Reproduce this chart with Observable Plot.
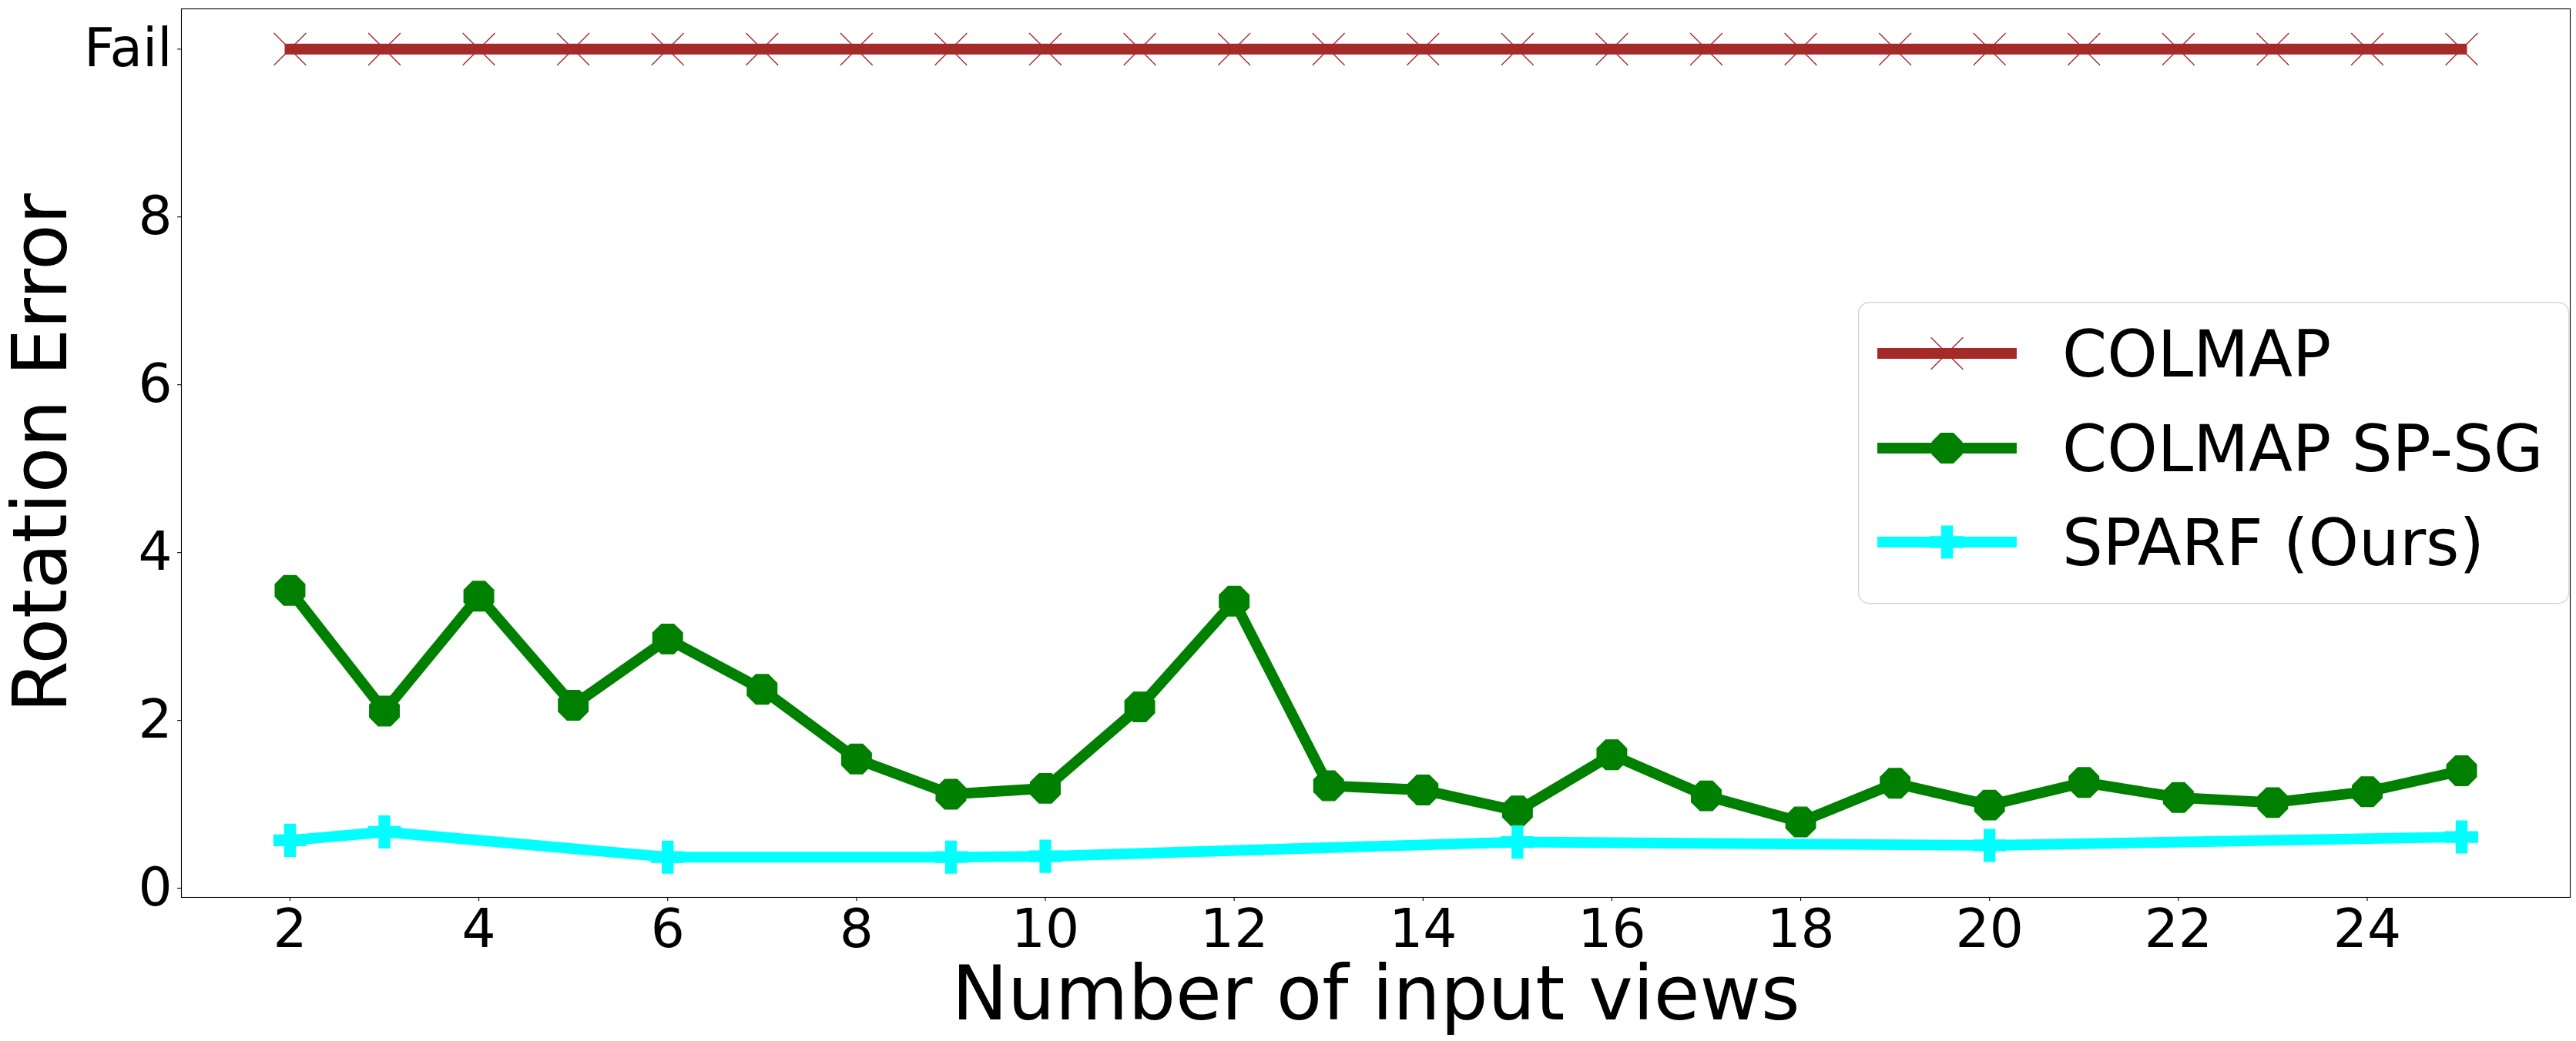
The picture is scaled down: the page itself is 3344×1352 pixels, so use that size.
<!DOCTYPE html>
<html><head><meta charset="utf-8">
<script src="https://cdn.jsdelivr.net/npm/d3@7"></script>
<script src="https://cdn.jsdelivr.net/npm/@observablehq/plot@0.6"></script>
<style>
html,body{margin:0;padding:0;background:#fff;}
#wrap{position:relative;width:3344px;height:1352px;background:#fff;}
</style></head>
<body><div id="wrap"></div>
<script>
// ---- data ----
const views = [2,3,4,5,6,7,8,9,10,11,12,13,14,15,16,17,18,19,20,21,22,23,24,25];
const colmapErr = [10,10,10,10,10,10,10,10,10,10,10,10,10,10,10,10,10,10,10,10,10,10,10,10]; // "Fail"
const spsgErr = [3.55,2.11,3.48,2.18,2.97,2.37,1.54,1.12,1.19,2.16,3.42,1.22,1.17,0.92,1.59,1.10,0.79,1.25,0.99,1.26,1.08,1.02,1.15,1.40];
const sparfViews = [2,3,6,9,10,15,20,25];
const sparfErr = [0.57,0.67,0.37,0.37,0.38,0.55,0.51,0.61];
const xTicks = [2,4,6,8,10,12,14,16,18,20,22,24];
const yTicks = [0,2,4,6,8,10];
const yTickLabels = ["0","2","4","6","8","Fail"];
const seriesNames = ["COLMAP","COLMAP SP-SG","SPARF (Ours)"];
const seriesColors = ["#a52a2a","#008000","#00ffff"];

// ---- marker shapes ----
const timesSym = {draw(ctx, size){const R=Math.sqrt(size/Math.PI);ctx.moveTo(-R,-R);ctx.lineTo(R,R);ctx.moveTo(-R,R);ctx.lineTo(R,-R);}};
const octSym = {draw(ctx, size){const R=Math.sqrt(size/Math.PI);for(let k=0;k<8;k++){const a=Math.PI/8+k*Math.PI/4;const px=R*Math.cos(a),py=R*Math.sin(a);if(k===0)ctx.moveTo(px,py);else ctx.lineTo(px,py);}ctx.closePath();}};
const plusSym = {draw(ctx, size){const R=Math.sqrt(size/Math.PI);const t=R/3;ctx.moveTo(-t,-R);ctx.lineTo(t,-R);ctx.lineTo(t,-t);ctx.lineTo(R,-t);ctx.lineTo(R,t);ctx.lineTo(t,t);ctx.lineTo(t,R);ctx.lineTo(-t,R);ctx.lineTo(-t,t);ctx.lineTo(-R,t);ctx.lineTo(-R,-t);ctx.lineTo(-t,-t);ctx.closePath();}};
const symbols = [timesSym, octSym, plusSym];

const colmapRows = views.map((v,i)=>({x:v,y:colmapErr[i]}));
const spsgRows = views.map((v,i)=>({x:v,y:spsgErr[i]}));
const sparfRows = sparfViews.map((v,i)=>({x:v,y:sparfErr[i]}));

const LW = 13.9, MR = 20.85;

const chart = Plot.plot({
  width: 3344, height: 1352,
  marginLeft: 235, marginRight: 8, marginTop: 11, marginBottom: 187,
  style: {fontFamily: "DejaVu Sans", fontSize: "69.4px", color: "black", background: "white"},
  x: {domain: [0.85, 26.15]},
  y: {domain: [-0.11, 10.48]},
  marks: [
    Plot.axisX({ticks: xTicks, tickSize: 4.9, tickPadding: 10.8, strokeWidth: 1.1, label: null, tickFormat: d => String(d)}),
    Plot.axisY({ticks: yTicks, tickSize: 4.9, tickPadding: 7, strokeWidth: 1.1, label: null, tickFormat: d => yTickLabels[yTicks.indexOf(d)]}),
    Plot.line(colmapRows, {x: "x", y: "y", stroke: seriesColors[0], strokeWidth: LW, strokeLinecap: "square", strokeLinejoin: "round"}),
    Plot.dot(colmapRows, {x: "x", y: "y", symbol: timesSym, r: MR, fill: "none", stroke: seriesColors[0], strokeWidth: 1.4}),
    Plot.line(spsgRows, {x: "x", y: "y", stroke: seriesColors[1], strokeWidth: LW, strokeLinecap: "square", strokeLinejoin: "round"}),
    Plot.dot(spsgRows, {x: "x", y: "y", symbol: octSym, r: MR, fill: seriesColors[1], stroke: seriesColors[1], strokeWidth: 1.4}),
    Plot.line(sparfRows, {x: "x", y: "y", stroke: seriesColors[2], strokeWidth: LW, strokeLinecap: "square", strokeLinejoin: "round"}),
    Plot.dot(sparfRows, {x: "x", y: "y", symbol: plusSym, r: MR, fill: seriesColors[2], stroke: seriesColors[2], strokeWidth: 1.4}),
    Plot.frame({stroke: "black", strokeWidth: 1.1}),
    Plot.text(["Number of input views"], {text: d => d, frameAnchor: "bottom", dy: 127, fontSize: 97.2, lineAnchor: "middle", textAnchor: "middle"}),
    Plot.text(["Rotation Error"], {text: d => d, frameAnchor: "left", dx: -181, rotate: -90, fontSize: 97.2, lineAnchor: "middle", textAnchor: "middle"})
  ]
});
document.getElementById("wrap").appendChild(chart);

// ---- legend ----
const leg = d3.select("#wrap").append("svg")
  .style("position","absolute").style("left","2412px").style("top","392px")
  .attr("width",924).attr("height",394)
  .style("font-family","DejaVu Sans");
leg.append("rect").attr("x",0.7).attr("y",0.7).attr("width",922).attr("height",391)
  .attr("rx",14).attr("fill","white").attr("fill-opacity",0.8).attr("stroke","#d6d6d6").attr("stroke-width",1.4);
const rowY = [67,190,312];
seriesNames.forEach((name,i)=>{
  const g = leg.append("g").attr("transform",`translate(0,${rowY[i]})`);
  g.append("line").attr("x1",32).attr("x2",199).attr("y1",0).attr("y2",0)
    .attr("stroke",seriesColors[i]).attr("stroke-width",LW).attr("stroke-linecap","square");
  const p = d3.path(); symbols[i].draw(p, MR*MR*Math.PI);
  g.append("path").attr("d",p.toString()).attr("transform","translate(115.5,0)")
    .attr("fill", i===0 ? "none" : seriesColors[i]).attr("stroke",seriesColors[i]).attr("stroke-width",1.4);
  g.append("text").attr("x",265).attr("y",0).attr("dy","0.36em").attr("font-size",83.3).attr("fill","black").text(name);
});
</script>
</body></html>
